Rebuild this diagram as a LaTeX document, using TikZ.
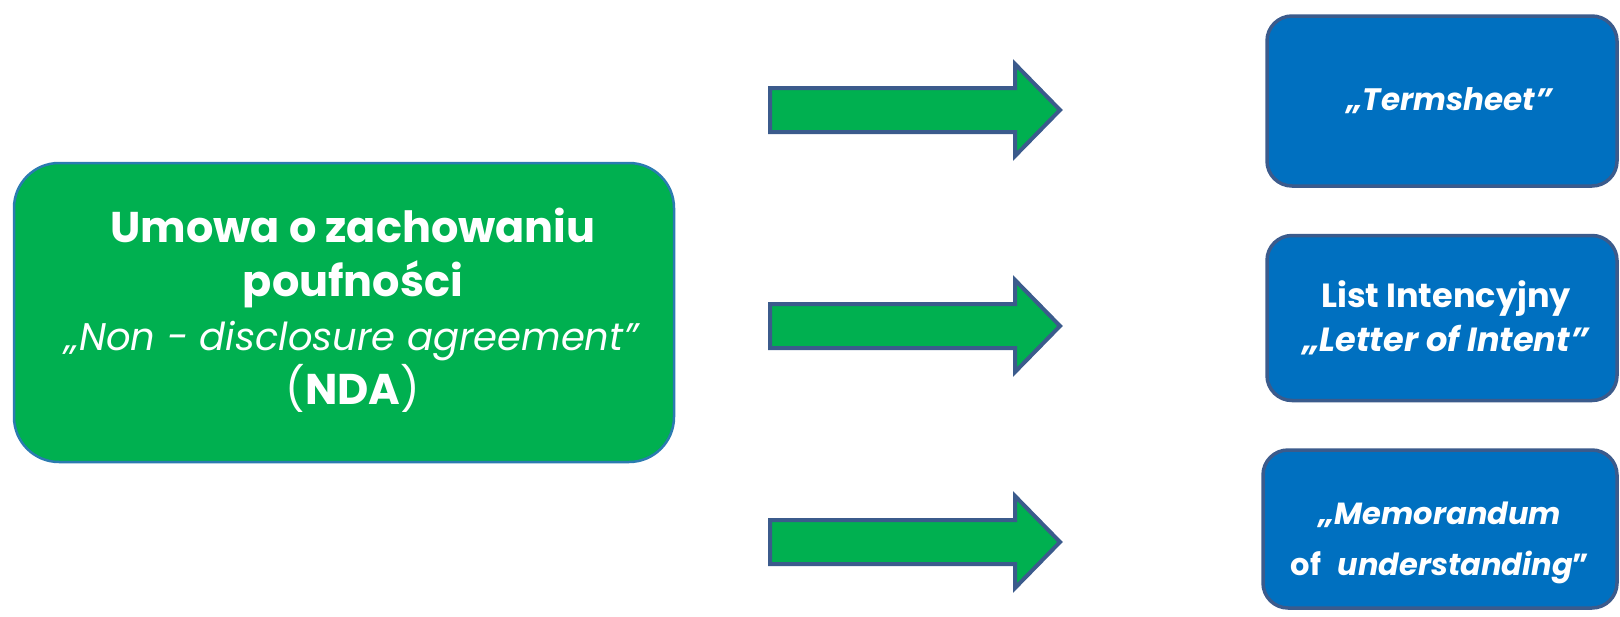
\documentclass[tikz,border=0pt]{standalone}
\usepackage{fontspec}
\setmainfont{Poppins}
\definecolor{ggreen}{HTML}{00B050}
\definecolor{bblue}{HTML}{0070C0}
\definecolor{edgeblue}{HTML}{3B5B8C}
\definecolor{gedge}{HTML}{2B7BB0}
\tikzset{
  greenbox/.style={draw=gedge, line width=2.5pt, fill=ggreen, rounded corners=45pt,
    text=white, align=center, inner sep=0pt},
  bluebox/.style={draw=edgeblue, line width=3.5pt, fill=bblue, rounded corners=25pt,
    text=white, align=center, inner sep=0pt, minimum width=350pt},
  blockarrow/.style={draw=edgeblue, line width=4pt, fill=ggreen, line join=miter},
}
\begin{document}
\begin{tikzpicture}[x=1pt,y=-1pt]
\useasboundingbox (0,0) rectangle (1620,616);

\node[greenbox, minimum width=660pt, minimum height=299pt] (nda) at (344,312.5) {};
\node[text=white, align=center, font=\fontsize{43}{54}\selectfont] (ndatext) at (353,310)
  {\textbf{Umowa o zachowaniu}\\ \textbf{poufności}\\ {\fontsize{38.5}{54}\selectfont\textit{„Non - disclosure agreement”}}\\ (\textbf{NDA})};

\foreach \c/\n in {110/a1, 326/a2, 542/a3}{
  \draw[blockarrow] (770,\c-22) -- (1015,\c-22) -- (1015,\c-46) -- (1060,\c) --
    (1015,\c+46) -- (1015,\c+22) -- (770,\c+22) -- cycle;
}

\node[bluebox, minimum height=170pt, font=\fontsize{31}{42}\selectfont] (ts) at (1442,101)
  {\hspace*{16pt}\textbf{\textit{„Termsheet”}}};
\node[bluebox, minimum height=165pt, font=\fontsize{33.5}{44}\selectfont] (loi) at (1442,318)
  {\hspace*{8pt}\textbf{List Intencyjny}\\ \hspace*{8pt}\textbf{\textit{„Letter of Intent”}}};
\node[bluebox, minimum height=158pt, minimum width=354pt, font=\fontsize{30.5}{51}\selectfont] (mou) at (1440,529)
  {\rule{0pt}{50pt}\textbf{\textit{„Memorandum}}\\ \textbf{of\,\, \textit{understanding}”}};
\end{tikzpicture}
\end{document}
